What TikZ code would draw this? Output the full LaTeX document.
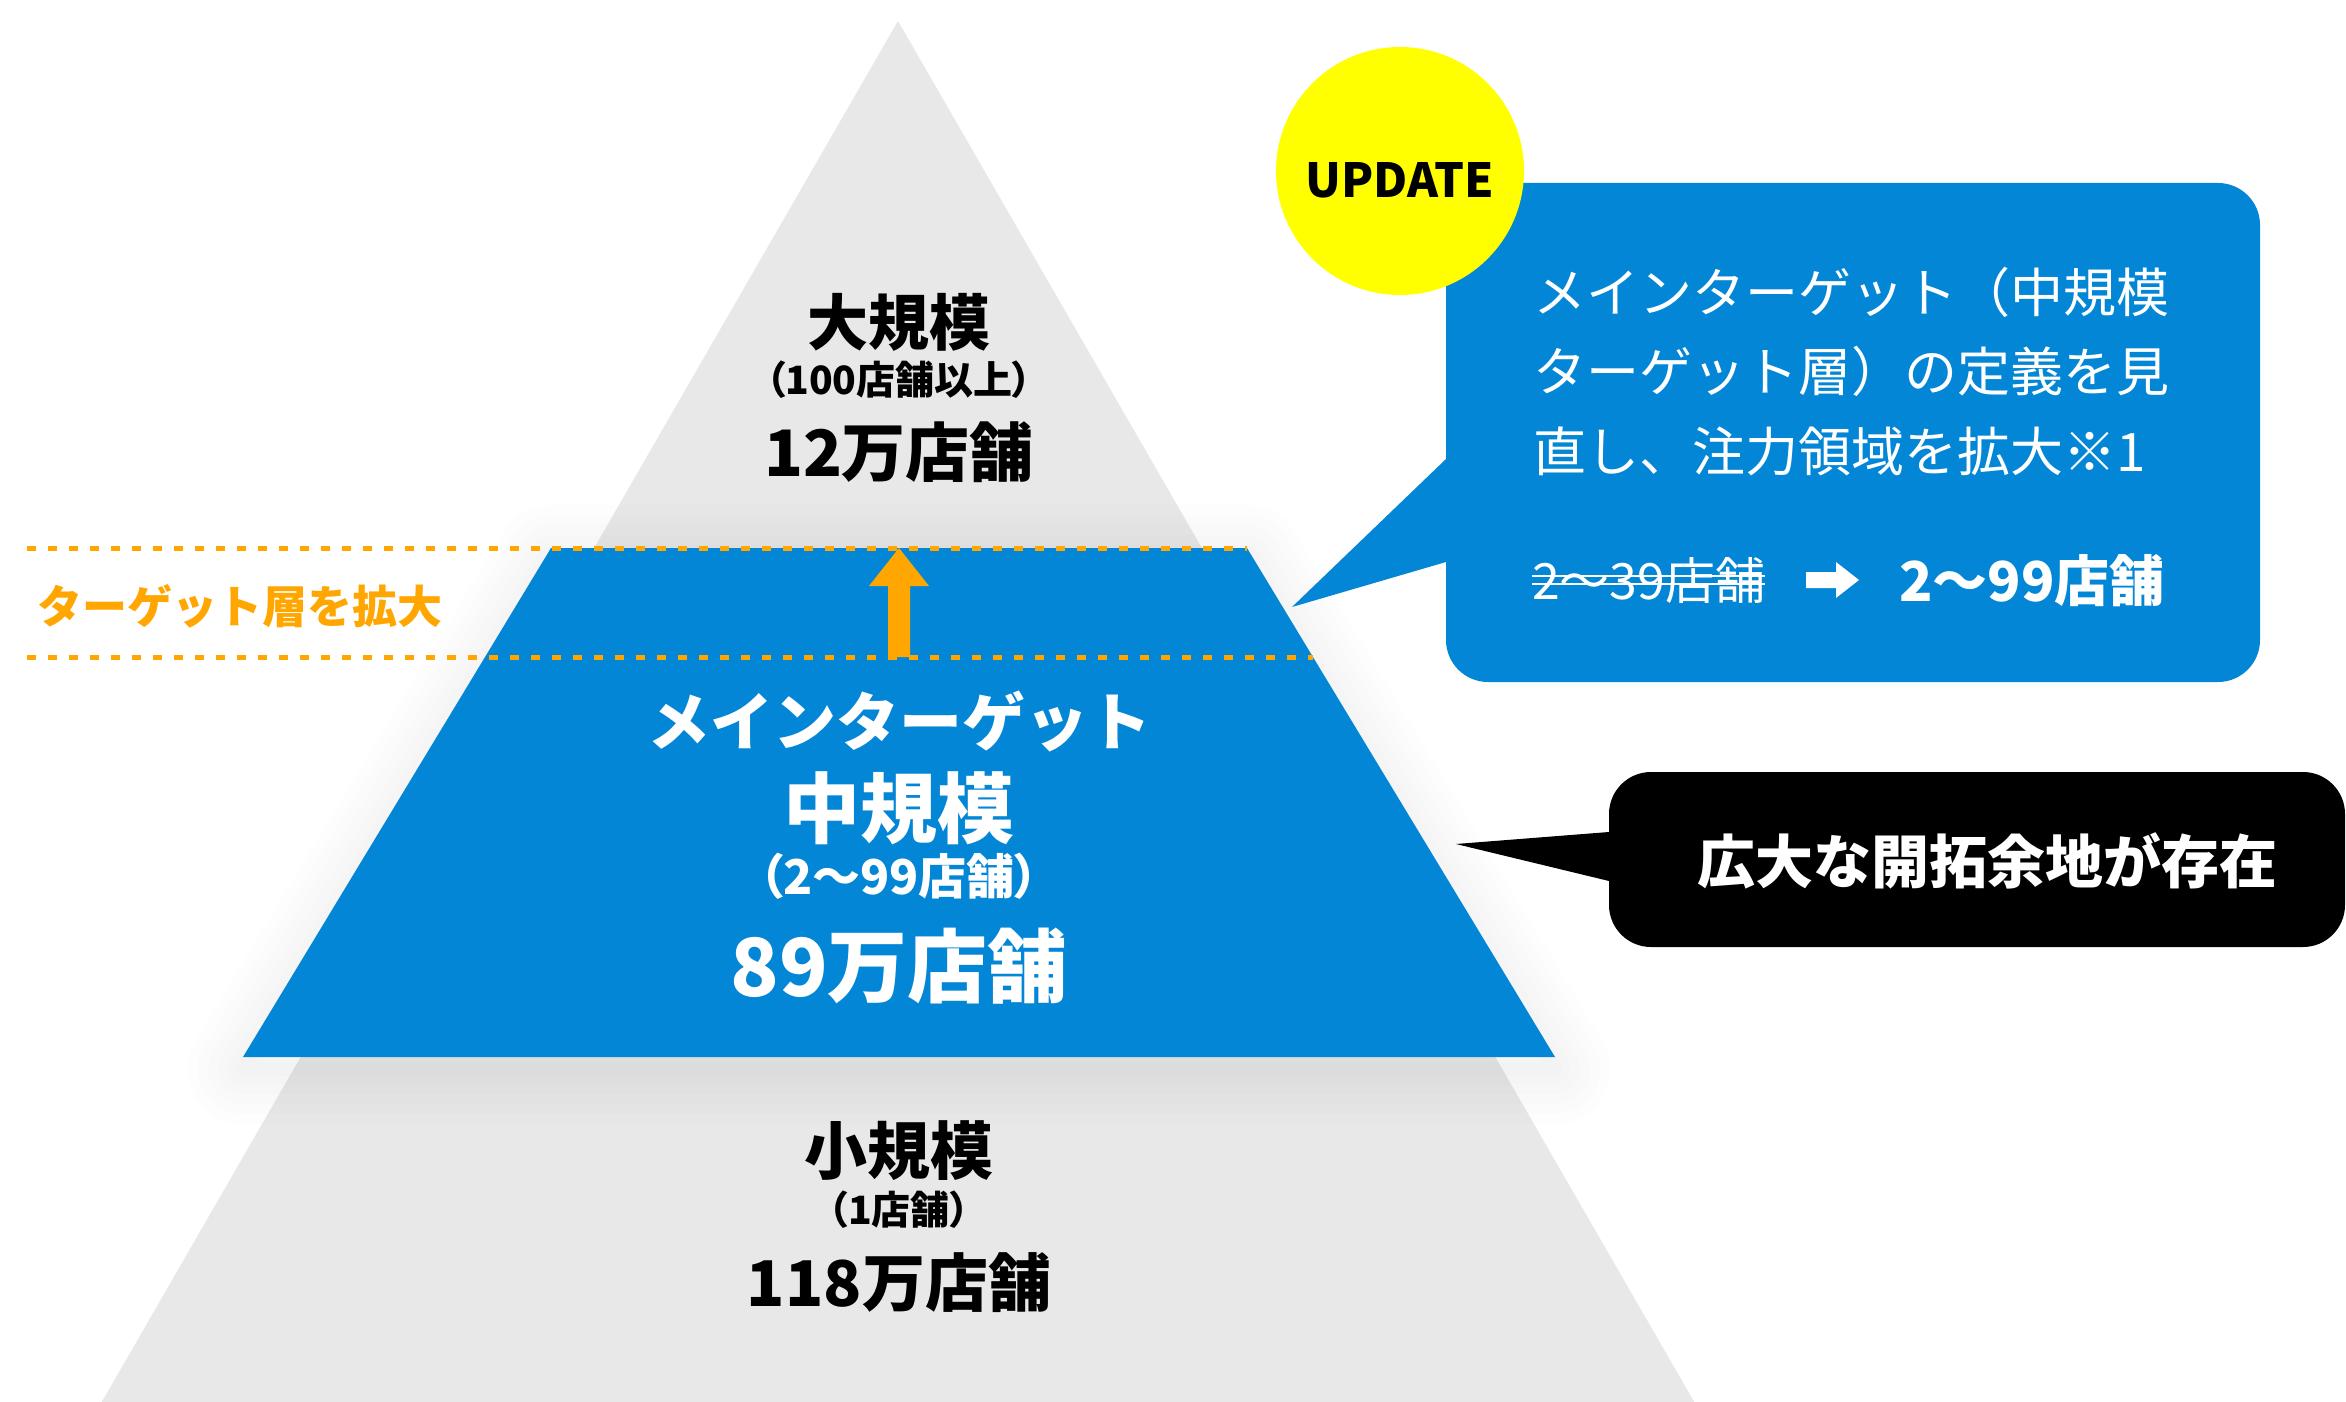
\documentclass[tikz,border=0pt]{standalone}
\usepackage{fontspec}
\newfontfamily\jp{Noto Sans CJK JP}
\newfontfamily\jpp[RawFeature=+palt]{Noto Sans CJK JP}
\newcommand\jfs[1]{\fontsize{#1}{#1}\selectfont}
\definecolor{pyrgray}{HTML}{E8E8E8}
\definecolor{midblue}{HTML}{0386D6}
\definecolor{orng}{HTML}{FFA600}
\definecolor{yel}{HTML}{FFFF00}
\tikzset{
  lbl/.style={inner sep=0pt, outer sep=0pt},
  blk/.style={lbl, text=black},
  wht/.style={lbl, text=white},
  orgdash/.style={orng, line width=2.5pt, dash pattern=on 4.5pt off 6pt},
}
\begin{document}
\begin{tikzpicture}[x=0.5pt,y=-0.5pt]
\clip (0,0) rectangle (2346,1402);
\fill[white] (0,0) rectangle (2346,1402);
% gray pyramid
\fill[pyrgray] (898,21) -- (1700,1412) -- (96,1412) -- cycle;
% soft shadow around blue band
\begin{scope}[yshift=-6pt]
\foreach \w in {110,90,70,50,30,14}{
  \draw[black, line width=\w*0.5pt, opacity=0.008, line join=round]
    (551,548) -- (1247,548) -- (1555,1057) -- (243,1057) -- cycle;
}
\end{scope}
% blue band
\fill[midblue] (551,548) -- (1247,548) -- (1555,1057) -- (243,1057) -- cycle;
% dashed orange lines
\coordinate (d1a) at (27,548);  \coordinate (d1b) at (1247,548);
\coordinate (d2a) at (27,657);  \coordinate (d2b) at (1313,657);
\draw[orgdash] (d1a) -- (d1b);
\draw[orgdash] (d2a) -- (d2b);
% orange arrow
\fill[orng] (888,657) -- (888,586) -- (869,586) -- (899,548) -- (929,586) -- (910,586) -- (910,657) -- cycle;
\node[lbl, anchor=west, text=orng, font=\jp\bfseries\jfs{22.5}] (expand) at (38,606) {ターゲット層を拡大};
% pyramid labels
\node[blk, font=\jp\bfseries\jfs{30.5}] (large) at (899,322) {大規模};
\node[blk, font=\jpp\bfseries\jfs{19.5}] (largeR) at (899,380) {（100店舗以上）};
\node[blk, font=\jp\bfseries\jfs{32}] (largeN) at (899,452) {12万店舗};
\node[wht, font=\jp\bfseries\jfs{31.5}] (mainT) at (899,721) {メインターゲット};
\node[wht, font=\jp\bfseries\jfs{38.5}] (mid) at (899,808) {中規模};
\node[wht, font=\jpp\bfseries\jfs{24}] (midR) at (899,876) {（2〜99店舗）};
\node[wht, font=\jp\bfseries\jfs{40}] (midN) at (899,966) {89万店舗};
\node[blk, font=\jp\bfseries\jfs{31.5}] (small) at (899,1151) {小規模};
\node[blk, font=\jpp\bfseries\jfs{19.5}] (smallR) at (899,1210) {（1店舗）};
\node[blk, font=\jp\bfseries\jfs{31.5}] (smallN) at (899,1283) {118万店舗};
% blue callout
\fill[midblue, rounded corners=21pt] (1446,183) rectangle (2260,682);
\fill[midblue] (1460,459) -- (1446,459) -- (1292,607) -- (1446,562) -- (1460,562) -- cycle;
% update circle
\fill[yel] (1400,171) circle (124);
\node[blk, font=\jp\bfseries\jfs{23.5}] (upd) at (1400,180) {UPDATE};
% callout text
\node[wht, anchor=west, font=\jp\jfs{26.5}] (t1) at (1533,292) {メインターゲット（中規模};
\node[wht, anchor=west, font=\jp\jfs{26.5}] (t2) at (1533,371) {ターゲット層）の定義を見};
\node[wht, anchor=west, font=\jp\jfs{26.5}] (t3) at (1533,451) {直し、注力領域を拡大※1};
\node[wht, anchor=west, font=\jp\jfs{25}] (old) at (1532,580) {2〜39店舗};
\draw[white, line width=1.2pt] ([yshift=2pt]old.west) -- ([yshift=2pt]old.east);
\draw[white, line width=1.2pt] ([yshift=-2pt]old.west) -- ([yshift=-2pt]old.east);
\fill[white] (1806,572) -- (1836,572) -- (1836,562) -- (1859,580) -- (1836,598) -- (1836,588) -- (1806,588) -- cycle;
\node[wht, anchor=west, font=\jp\bfseries\jfs{27.5}] (new) at (1899,581) {2〜99店舗};
% black callout
\fill[black, rounded corners=21pt] (1609,772) rectangle (2345,947);
\fill[black] (1622,832) -- (1609,832) -- (1456,844) -- (1609,881) -- (1622,881) -- cycle;
\node[wht, font=\jp\bfseries\jfs{29}] (room) at (1987,861) {広大な開拓余地が存在};
\end{tikzpicture}
\end{document}
